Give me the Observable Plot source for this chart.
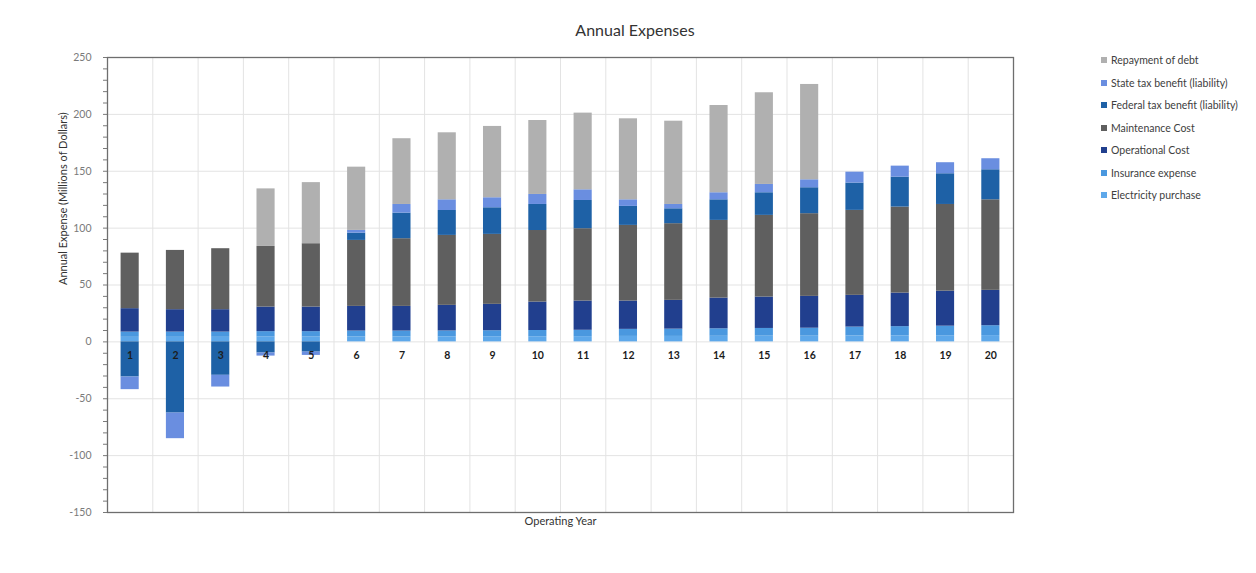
<!DOCTYPE html>
<html>
<head>
<meta charset="utf-8">
<script src="https://cdn.jsdelivr.net/npm/d3@7"></script>
<script src="https://cdn.jsdelivr.net/npm/@observablehq/plot@0.6"></script>
<style>
  html, body { margin: 0; padding: 0; background: #fff; }
  #chart { position: relative; width: 1256px; height: 573px; font-family: Lato, "Open Sans", sans-serif; overflow: hidden; }
  #title { position: absolute; top: 19px; left: 635px; transform: translateX(-50%); font-size: 16px; line-height: 22px; color: #333; white-space: nowrap; }
  #plot { position: absolute; top: 45px; left: 0; }
  #legend { position: absolute; top: 49px; left: 1101px; font-size: 10.5px; color: #404040; }
  #legend .row { display: flex; align-items: center; height: 22.5px; white-space: nowrap; }
  #legend .sw { width: 6px; height: 6px; margin-right: 4px; flex: none; }
</style>
</head>
<body>
<div id="chart">
  <div id="title">Annual Expenses</div>
  <div id="plot"></div>
  <div id="legend"></div>
</div>
<script>
// Operating years
const years = [1, 2, 3, 4, 5, 6, 7, 8, 9, 10, 11, 12, 13, 14, 15, 16, 17, 18, 19, 20];

// Annual amounts per component, millions of dollars (negative = benefit)
const electricityPurchase = [4.0, 4.0, 4.0, 4.2, 4.2, 4.3, 4.3, 4.4, 4.5, 4.5, 4.6, 4.8, 4.8, 4.9, 5.0, 5.0, 5.2, 5.3, 5.4, 5.5];
const insuranceExpense    = [4.6, 4.6, 4.6, 4.8, 4.8, 5.2, 5.2, 5.2, 5.3, 5.5, 5.6, 6.2, 6.4, 6.6, 6.8, 7.0, 7.8, 8.1, 8.4, 8.7];
const operationalCost     = [20.6, 19.7, 19.7, 21.6, 21.6, 21.7, 21.7, 22.5, 23.2, 25.0, 25.7, 24.9, 25.3, 27.0, 27.6, 28.0, 27.9, 29.5, 30.8, 31.1];
const maintenanceCost     = [48.8, 52.1, 53.6, 53.3, 55.7, 58.0, 59.5, 61.5, 61.5, 62.9, 63.6, 66.5, 67.4, 68.3, 71.8, 72.7, 74.7, 75.6, 76.2, 79.6];
const federalTaxBenefit   = [-30.9, -62.6, -29.4, -9.8, -9.0, 6.4, 22.5, 21.9, 23.4, 22.9, 24.8, 16.7, 13.1, 18.1, 19.9, 22.8, 24.0, 26.3, 27.0, 26.4];
const stateTaxBenefit     = [-11.1, -22.5, -10.3, -2.7, -2.9, 2.4, 7.6, 9.4, 8.8, 8.8, 9.4, 5.8, 3.8, 6.2, 7.3, 7.0, 9.6, 9.7, 9.7, 9.7];
const repaymentOfDebt     = [0, 0, 0, 50.6, 53.7, 55.6, 57.8, 58.9, 62.7, 65.0, 67.4, 71.2, 73.2, 76.7, 80.6, 83.8, 0, 0, 0, 0];

// Stack order, bottom to top
const seriesNames = [
  "Electricity purchase",
  "Insurance expense",
  "Operational Cost",
  "Maintenance Cost",
  "Federal tax benefit (liability)",
  "State tax benefit (liability)",
  "Repayment of debt"
];
const seriesValues = [electricityPurchase, insuranceExpense, operationalCost, maintenanceCost, federalTaxBenefit, stateTaxBenefit, repaymentOfDebt];
const seriesColors = ["#5ea8ea", "#4a98df", "#213f8e", "#5f5f5f", "#1e61a6", "#6a8ee0", "#b0b0b0"];

// Y axis ticks: minor every 10, labelled every 50
const yTicks = d3.range(-150, 251, 10);
const yLabelled = d3.range(-150, 251, 50);
// Boundaries between operating years
const yearBoundaries = d3.range(0.5, 20.6, 1);

const rows = years.flatMap((year, i) =>
  seriesNames.map((series, s) => ({year, series, value: seriesValues[s][i]}))
);

const chart = Plot.plot({
  width: 1256,
  height: 528,
  marginLeft: 107,
  marginRight: 243,
  marginTop: 12,
  marginBottom: 61,
  style: {fontFamily: "Lato, 'Open Sans', sans-serif", fontSize: "10px", background: "transparent", color: "#666"},
  x: {domain: [0.5, 20.5], axis: null},
  y: {domain: [-150, 250], axis: null},
  color: {domain: seriesNames, range: seriesColors},
  marks: [
    Plot.gridY(yLabelled, {stroke: "#e3e3e3", strokeOpacity: 1}),
    Plot.gridX(yearBoundaries, {stroke: "#e3e3e3", strokeOpacity: 1}),
    Plot.rectY(rows, {
      x1: d => d.year - 0.2,
      x2: d => d.year + 0.2,
      y: "value",
      fill: "series",
      order: seriesNames
    }),
    Plot.text(years, {
      x: d => d,
      y: 0,
      text: d => String(d),
      dy: 14,
      fontWeight: "bold",
      fontSize: 10.5,
      fill: "#1c1c1c"
    }),
    Plot.axisY(yTicks, {
      tickFormat: d => (d % 50 === 0 ? String(d) : ""),
      tickSize: 4,
      tickPadding: 12,
      stroke: "#7a7a7a",
      fill: "#7a7a7a",
      fontSize: 10.5,
      label: null
    }),
    Plot.frame({stroke: "#6e6e6e", strokeWidth: 1.3}),
    Plot.text(["Operating Year"], {frameAnchor: "bottom", dy: 12, fontSize: 11, fill: "#333"}),
    Plot.text(["Annual Expense (Millions of Dollars)"], {frameAnchor: "left", rotate: -90, dx: -44, fontSize: 11, fill: "#333"})
  ]
});
document.getElementById("plot").appendChild(chart);

// Legend, listed top of stack first
const legend = d3.select("#legend");
seriesNames.slice().reverse().forEach(name => {
  const row = legend.append("div").attr("class", "row");
  row.append("div").attr("class", "sw").style("background", seriesColors[seriesNames.indexOf(name)]);
  row.append("span").text(name);
});
</script>
</body>
</html>
